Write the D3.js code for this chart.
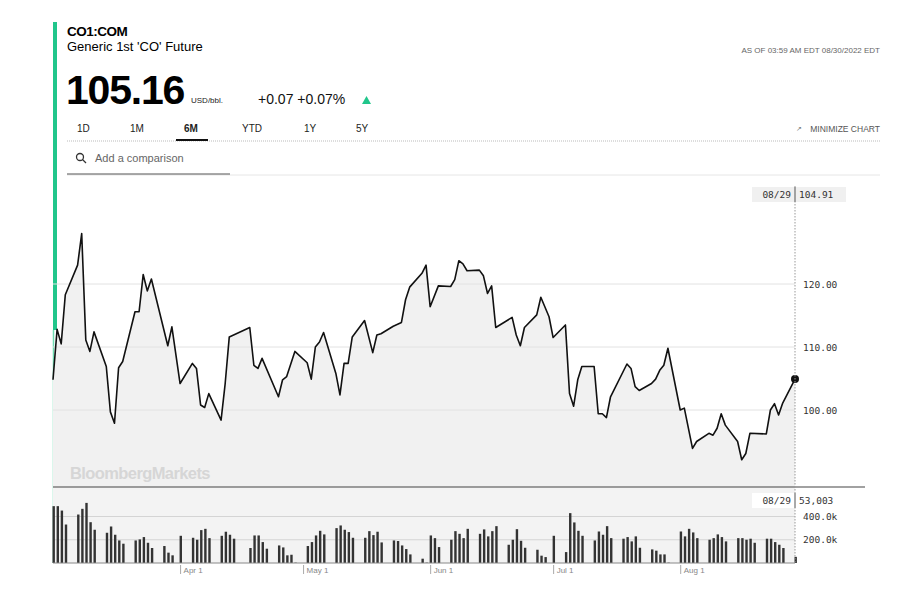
<!DOCTYPE html>
<html lang="en">
<head>
<meta charset="UTF-8">
<script src="https://cdnjs.cloudflare.com/ajax/libs/d3/7.9.0/d3.min.js"></script>
<title>CO1:COM</title>
<style>
  body { margin: 0; background: #fff; font-family: "Liberation Sans", Arial, sans-serif; }
  svg { display: block; }
</style>
</head>
<body>
<svg id="chart" width="900" height="591"></svg>
<script>
// price line vertices (date, close)
const priceDates = [
  "2022-03-01","2022-03-02","2022-03-03","2022-03-04","2022-03-07","2022-03-08","2022-03-09","2022-03-10","2022-03-11",
  "2022-03-14","2022-03-15","2022-03-16","2022-03-17","2022-03-18","2022-03-21","2022-03-22","2022-03-23","2022-03-24","2022-03-25",
  "2022-03-29","2022-03-30","2022-04-01","2022-04-04","2022-04-05","2022-04-06","2022-04-07","2022-04-08","2022-04-11","2022-04-12",
  "2022-04-13","2022-04-18","2022-04-19","2022-04-20","2022-04-21","2022-04-25","2022-04-26","2022-04-27","2022-04-29",
  "2022-05-02","2022-05-03","2022-05-04","2022-05-05","2022-05-06","2022-05-09","2022-05-10","2022-05-11","2022-05-12","2022-05-13",
  "2022-05-16","2022-05-18","2022-05-19","2022-05-20","2022-05-23","2022-05-25","2022-05-26","2022-05-27","2022-05-30","2022-05-31",
  "2022-06-01","2022-06-03","2022-06-06","2022-06-07","2022-06-08","2022-06-09","2022-06-10","2022-06-13","2022-06-14","2022-06-15",
  "2022-06-16","2022-06-17","2022-06-21","2022-06-22","2022-06-23","2022-06-24","2022-06-27","2022-06-28","2022-06-30","2022-07-01",
  "2022-07-04","2022-07-05","2022-07-06","2022-07-07","2022-07-08","2022-07-11","2022-07-12","2022-07-13","2022-07-14","2022-07-15",
  "2022-07-19","2022-07-20","2022-07-21","2022-07-22","2022-07-25","2022-07-26","2022-07-27","2022-07-28","2022-07-29",
  "2022-08-01","2022-08-02","2022-08-04","2022-08-05","2022-08-08","2022-08-09","2022-08-10","2022-08-11","2022-08-12",
  "2022-08-15","2022-08-16","2022-08-17","2022-08-18","2022-08-22","2022-08-23","2022-08-24","2022-08-25","2022-08-26","2022-08-29"
];
const priceValues = [
  104.8,112.8,110.5,118.3,123.0,128.0,111.1,109.3,112.4,
  106.9,99.7,97.9,106.7,107.7,115.6,115.6,121.5,118.9,120.8,
  110.2,113.2,104.2,107.4,106.6,100.8,100.4,102.6,98.4,104.2,
  111.6,113.1,107.1,106.6,108.2,102.1,104.8,105.3,109.3,
  107.5,104.9,110.0,110.8,112.3,105.8,102.4,107.4,107.4,111.6,
  114.2,109.1,111.9,112.1,113.3,113.9,117.5,119.5,121.7,123.0,
  116.4,119.7,119.6,120.7,123.7,123.2,122.1,122.2,121.3,118.5,
  119.7,113.1,114.7,111.9,110.2,113.1,115.1,117.9,114.8,111.5,
  113.5,102.6,100.6,104.8,106.9,106.9,99.4,99.4,98.8,102.1,
  107.3,106.6,103.7,103.1,104.2,104.9,106.3,107.1,109.8,
  100.0,100.3,93.9,95.0,96.3,96.0,97.1,99.4,97.6,
  95.0,92.1,93.1,96.3,96.2,100.0,101.0,99.2,101.1,104.91
];
// daily volume (thousands)
const volDates = [
  "2022-03-01","2022-03-02","2022-03-03","2022-03-04",
  "2022-03-07","2022-03-08","2022-03-09","2022-03-10","2022-03-11",
  "2022-03-14","2022-03-15","2022-03-16","2022-03-17","2022-03-18",
  "2022-03-21","2022-03-22","2022-03-23","2022-03-24","2022-03-25",
  "2022-03-28","2022-03-29","2022-03-30","2022-04-01",
  "2022-04-04","2022-04-05","2022-04-06","2022-04-07","2022-04-08",
  "2022-04-11","2022-04-12","2022-04-13","2022-04-14",
  "2022-04-18","2022-04-19","2022-04-20","2022-04-21","2022-04-22",
  "2022-04-25","2022-04-26","2022-04-27","2022-04-28","2022-04-29",
  "2022-05-02","2022-05-03","2022-05-04","2022-05-05","2022-05-06",
  "2022-05-09","2022-05-10","2022-05-11","2022-05-12","2022-05-13",
  "2022-05-16","2022-05-17","2022-05-18","2022-05-19","2022-05-20",
  "2022-05-23","2022-05-24","2022-05-25","2022-05-26","2022-05-27",
  "2022-05-30","2022-05-31","2022-06-01","2022-06-02","2022-06-03",
  "2022-06-06","2022-06-07","2022-06-08","2022-06-09","2022-06-10",
  "2022-06-13","2022-06-14","2022-06-15","2022-06-16","2022-06-17",
  "2022-06-20","2022-06-21","2022-06-22","2022-06-23","2022-06-24",
  "2022-06-27","2022-06-28","2022-06-29","2022-07-01",
  "2022-07-04","2022-07-05","2022-07-06","2022-07-07","2022-07-08",
  "2022-07-11","2022-07-12","2022-07-13","2022-07-14","2022-07-15",
  "2022-07-18","2022-07-19","2022-07-20","2022-07-21","2022-07-22",
  "2022-07-25","2022-07-26","2022-07-27","2022-07-28","2022-07-29",
  "2022-08-01","2022-08-02","2022-08-03","2022-08-04","2022-08-05",
  "2022-08-08","2022-08-09","2022-08-10","2022-08-11","2022-08-12",
  "2022-08-15","2022-08-16","2022-08-17","2022-08-18","2022-08-19",
  "2022-08-22","2022-08-23","2022-08-24","2022-08-25","2022-08-26",
  "2022-08-29"
];
const volValues = [
  489,489,451,331,
  417,466,517,351,286,
  260,314,243,194,166,
  194,203,223,174,129,
  146,89,66,234,
  217,200,283,294,214,
  234,269,243,209,
  129,237,237,180,123,
  151,134,66,71,3,
  146,180,237,277,246,
  300,323,286,266,217,
  217,274,240,269,177,
  194,189,151,120,74,
  37,3,237,214,137,
  200,274,251,214,294,
  251,289,229,274,317,
  157,200,291,191,131,
  114,63,51,234,
  94,429,349,277,234,
  194,271,243,317,214,
  209,223,186,229,131,
  117,106,74,74,3,
  271,229,294,263,214,
  200,214,246,223,186,
  214,214,200,209,174,
  209,209,180,157,129,
  53
];
const priceTicks = [100, 110, 120];
const volTicks = [200, 400];
const monthTicks = ["2022-04-01", "2022-05-01", "2022-06-01", "2022-07-01", "2022-08-01"];
const tabs = ["1D", "1M", "6M", "YTD", "1Y", "5Y"];

const parse = d3.timeParse("%Y-%m-%d");
const prices = priceDates.map((d, i) => ({ date: parse(d), value: priceValues[i] }));
const vols = volDates.map((d, i) => ({ date: parse(d), value: volValues[i] }));

const svg = d3.select("#chart");
const plotLeft = 53, plotRight = 795;
const plotTop = 176, priceBottom = 487, volBottom = 563;

const x = d3.scaleTime().domain([parse("2022-03-01"), parse("2022-08-29")]).range([plotLeft, plotRight]);
const y = d3.scaleLinear().domain([100 - 77 / 6.3, 120 + 109 / 6.3]).range([priceBottom, plotTop - 1]);
const yv = d3.scaleLinear().domain([0, 400]).range([volBottom, 516.5]);

// header
svg.append("rect").attr("x", 53).attr("y", 22).attr("width", 4).attr("height", 308).attr("fill", "#21c68b");
svg.append("line").attr("x1", 53.5).attr("x2", 53.5).attr("y1", 330).attr("y2", volBottom)
  .attr("stroke", "#6fdcb2").attr("stroke-width", 1.5);
svg.append("text").attr("x", 67).attr("y", 36).attr("font-size", 13.5).attr("font-weight", "bold")
  .attr("letter-spacing", -0.5).text("CO1:COM");
svg.append("text").attr("x", 67).attr("y", 51).attr("font-size", 13).text("Generic 1st 'CO' Future");
svg.append("text").attr("x", 66).attr("y", 104).attr("font-size", 41).attr("font-weight", "bold")
  .attr("letter-spacing", -1.2).text("105.16");
svg.append("text").attr("x", 191).attr("y", 103).attr("font-size", 8).attr("fill", "#222").text("USD/bbl.");
svg.append("text").attr("x", 258).attr("y", 104).attr("font-size", 14).attr("fill", "#111").text("+0.07  +0.07%");
svg.append("path").attr("d", "M362,104 L371,104 L366.5,96 Z").attr("fill", "#21c68b");
svg.append("text").attr("x", 880).attr("y", 53).attr("text-anchor", "end").attr("font-size", 8)
  .attr("fill", "#666").text("AS OF 03:59 AM EDT 08/30/2022 EDT");

const tabX = [77, 130, 184, 242, 304, 356];
tabs.forEach((t, i) => {
  svg.append("text").attr("x", tabX[i]).attr("y", 132).attr("font-size", 10)
    .attr("font-weight", t === "6M" ? "bold" : "normal").attr("fill", "#222").text(t);
});
svg.append("line").attr("x1", 67).attr("x2", 880).attr("y1", 141).attr("y2", 141)
  .attr("stroke", "#bbb").attr("stroke-dasharray", "1,1");
svg.append("line").attr("x1", 176).attr("x2", 208).attr("y1", 140).attr("y2", 140)
  .attr("stroke", "#111").attr("stroke-width", 2);
svg.append("text").attr("x", 880).attr("y", 132).attr("text-anchor", "end").attr("font-size", 8.5)
  .attr("fill", "#555").text("MINIMIZE CHART");
svg.append("text").attr("x", 796).attr("y", 131).attr("font-size", 7).attr("fill", "#777").text("↗");

// search box
svg.append("circle").attr("cx", 80).attr("cy", 157).attr("r", 3.5).attr("fill", "none").attr("stroke", "#333").attr("stroke-width", 1.3);
svg.append("line").attr("x1", 82.5).attr("y1", 159.5).attr("x2", 86).attr("y2", 163).attr("stroke", "#333").attr("stroke-width", 1.3);
svg.append("text").attr("x", 95).attr("y", 162).attr("font-size", 11).attr("fill", "#666").text("Add a comparison");
svg.append("line").attr("x1", 67).attr("x2", 880).attr("y1", 175).attr("y2", 175).attr("stroke", "#e6e6e6");
svg.append("line").attr("x1", 67).attr("x2", 230).attr("y1", 174).attr("y2", 174).attr("stroke", "#555").attr("stroke-width", 1.2);

// price panel
svg.append("path").datum(prices)
  .attr("d", d3.area().x(d => x(d.date)).y0(priceBottom).y1(d => y(d.value)))
  .attr("fill", "#f1f1f1");
svg.selectAll(".pgrid").data(priceTicks).enter().append("line")
  .attr("x1", plotLeft).attr("x2", plotRight).attr("y1", d => y(d)).attr("y2", d => y(d))
  .attr("stroke", "#e2e2e2");
svg.selectAll(".plab").data(priceTicks).enter().append("text")
  .attr("x", 803).attr("y", d => y(d) + 3.5).attr("font-family", "DejaVu Sans Mono, monospace")
  .attr("font-size", 9.5).attr("fill", "#333").text(d => d3.format(".2f")(d));
svg.append("text").attr("x", 70).attr("y", 479).attr("font-size", 16.5).attr("font-weight", "bold")
  .attr("fill", "#d6d6d6").attr("letter-spacing", -0.6).text("BloombergMarkets");
svg.append("path").datum(prices)
  .attr("d", d3.line().x(d => x(d.date)).y(d => y(d.value)))
  .attr("fill", "none").attr("stroke", "#111").attr("stroke-width", 1.6).attr("stroke-linejoin", "round");
const last = prices[prices.length - 1];
svg.append("circle").attr("cx", x(last.date)).attr("cy", y(last.value)).attr("r", 4).attr("fill", "#111");

// volume panel
svg.append("rect").attr("x", plotLeft).attr("y", priceBottom).attr("width", plotRight - plotLeft).attr("height", volBottom - priceBottom)
  .attr("fill", "#f3f3f3");
svg.selectAll(".vgrid").data(volTicks).enter().append("line")
  .attr("x1", plotLeft).attr("x2", plotRight).attr("y1", d => yv(d)).attr("y2", d => yv(d))
  .attr("stroke", "#d4d4d4");
svg.selectAll(".vbar").data(vols).enter().append("rect")
  .attr("x", d => x(d.date) - 0.5).attr("width", 2.4)
  .attr("y", d => yv(d.value)).attr("height", d => volBottom - yv(d.value))
  .attr("fill", "#333");
svg.selectAll(".vlab").data(volTicks).enter().append("text")
  .attr("x", 803).attr("y", d => yv(d) + 3.5).attr("font-family", "DejaVu Sans Mono, monospace")
  .attr("font-size", 9.5).attr("fill", "#333").text(d => d3.format(".1f")(d) + "k");
svg.append("line").attr("x1", plotLeft).attr("x2", plotRight).attr("y1", volBottom).attr("y2", volBottom).attr("stroke", "#888");
svg.append("line").attr("x1", plotLeft).attr("x2", 865).attr("y1", priceBottom).attr("y2", priceBottom)
  .attr("stroke", "#444").attr("stroke-width", 1.2);

// month axis
const xAxis = d3.axisBottom(x).tickValues(monthTicks.map(parse)).tickSize(0).tickFormat(d3.timeFormat("%b %-d"));
const ax = svg.append("g").attr("transform", `translate(0,${volBottom})`).call(xAxis);
ax.select(".domain").remove();
ax.selectAll("text").attr("text-anchor", "start").attr("dx", 3).attr("dy", 0).attr("y", 10)
  .attr("font-family", "Liberation Sans, Arial").attr("font-size", 8).attr("fill", "#888");
ax.selectAll(".tick").append("line").attr("y1", 2).attr("y2", 11).attr("stroke", "#aaa");

// crosshair and readouts
svg.append("line").attr("x1", plotRight).attr("x2", plotRight).attr("y1", 186).attr("y2", volBottom)
  .attr("stroke", "#999").attr("stroke-dasharray", "1.5,1.5");
function readout(yTop, left1, right1, bg) {
  svg.append("rect").attr("x", 752).attr("y", yTop).attr("width", 94).attr("height", 15).attr("fill", bg);
  svg.append("line").attr("x1", plotRight).attr("x2", plotRight).attr("y1", yTop).attr("y2", yTop + 15).attr("stroke", "#555");
  svg.append("text").attr("x", 791).attr("y", yTop + 11).attr("text-anchor", "end")
    .attr("font-family", "DejaVu Sans Mono, monospace").attr("font-size", 9.5).attr("fill", "#333").text(left1);
  svg.append("text").attr("x", 799).attr("y", yTop + 11)
    .attr("font-family", "DejaVu Sans Mono, monospace").attr("font-size", 9.5).attr("fill", "#333").text(right1);
}
readout(187, "08/29", "104.91", "#f0f0f0");
readout(493, "08/29", "53,003", "#ffffff");
</script>
</body>
</html>
